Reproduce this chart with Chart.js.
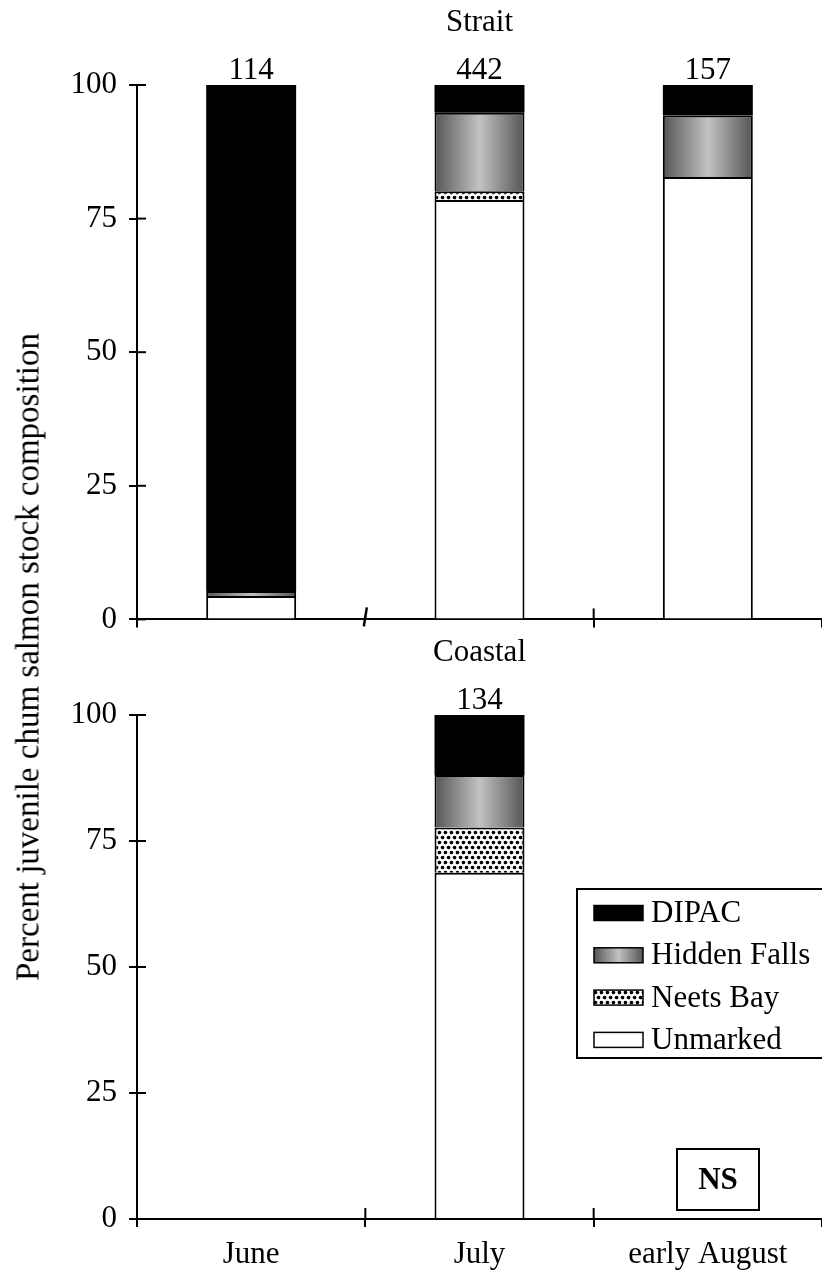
<!DOCTYPE html>
<html>
<head>
<meta charset="utf-8">
<script src="https://cdn.jsdelivr.net/npm/chart.js@4.4.1/dist/chart.umd.min.js"></script>
<style>
    body { margin: 0; background: #fff; }
    #wrap { position: relative; width: 822px; height: 1274px; }
    .box { position: absolute; left: 0; width: 822px; }
    #boxStrait { top: 0; height: 650px; }
    #boxCoastal { top: 630px; height: 644px; }
    #ylabel {
        position: absolute; left: 28px; top: 657px;
        transform: translate(-50%, -50%) rotate(-90deg);
        white-space: nowrap; font: 33px "Liberation Serif", serif; color: #000;
    }
</style>
</head>
<body>
<div id="wrap">
    <div class="box" id="boxStrait"><canvas id="chartStrait"></canvas></div>
    <div class="box" id="boxCoastal"><canvas id="chartCoastal"></canvas></div>
    <div id="ylabel">Percent juvenile chum salmon stock composition</div>
</div>
<script>
var categorias = ['June', 'July', 'early August'];
var yTicks = [0, 25, 50, 75, 100];
var estoques = ['Unmarked', 'Neets Bay', 'Hidden Falls', 'DIPAC'];

// Strait (percent of sample)
var straitUnmarked = [4.4, 78.5, 82.8];
var straitNeets = [0, 1.6, 0];
var straitHidden = [0.9, 14.7, 11.5];
var straitDipac = [94.7, 5.2, 5.7];
var straitN = [114, 442, 157];

// Coastal
var coastalUnmarked = [null, 68.7, null];
var coastalNeets = [null, 9.0, null];
var coastalHidden = [null, 10.4, null];
var coastalDipac = [null, 11.9, null];
var coastalN = [null, 134, null];

var BAR_PCT = 0.394;
var FONTE = '"Liberation Serif", "Times New Roman", serif';

var GraficoClass = function ()
{
    var _self = this;
    var pontos;

    this.criaPontos = function ()
    {
        var c = document.createElement('canvas');
        c.width = 6;
        c.height = 10;
        var g = c.getContext('2d');
        g.fillStyle = '#fff';
        g.fillRect(0, 0, 6, 10);
        g.fillStyle = '#000';
        [[1.5, 2.5], [4.5, 7.5], [-1.5, 7.5], [7.5, 2.5]].forEach(function (p) {
            g.beginPath();
            g.arc(p[0], p[1], 1.8, 0, Math.PI * 2);
            g.fill();
        });
        pontos = document.createElement('canvas').getContext('2d').createPattern(c, 'repeat');
    }

    this.faixaCinza = function (ctx, x0, x1)
    {
        var g = ctx.createLinearGradient(x0, 0, x1, 0);
        g.addColorStop(0, '#555');
        g.addColorStop(0.5, '#c2c2c2');
        g.addColorStop(1, '#555');
        return g;
    }

    this.gradienteHidden = function (context)
    {
        var chart = context.chart;
        if (!chart.chartArea || context.dataIndex === undefined)
            return '#999';
        var xs = chart.scales.x;
        var c = xs.getPixelForValue(context.dataIndex);
        var hw = xs.width / categorias.length * BAR_PCT / 2;
        return _self.faixaCinza(chart.ctx, c - hw, c + hw);
    }

    this.datasets = function (unmarked, neets, hidden, dipac)
    {
        var fills = ['#fff', pontos, _self.gradienteHidden, '#000'];
        return [unmarked, neets, hidden, dipac].map(function (d, i) {
            return {
                label: estoques[i],
                data: d,
                backgroundColor: fills[i],
                borderColor: '#000',
                // DIPAC is solid black, a border only leaves seams
                borderWidth: i === 3 ? 0 : 2,
                barPercentage: BAR_PCT,
                categoryPercentage: 1
            };
        });
    }

    this.linha = function (ctx, x0, y0, x1, y1)
    {
        ctx.beginPath();
        ctx.moveTo(x0, y0);
        ctx.lineTo(x1, y1);
        ctx.stroke();
    }

    this.decoracao = function (titulo, nums, quebra)
    {
        return {
            id: 'decoracao',
            afterDraw: function (chart) {
                var ctx = chart.ctx, a = chart.chartArea;
                var xs = chart.scales.x, ys = chart.scales.y;
                ctx.save();
                ctx.strokeStyle = '#000';
                ctx.lineWidth = 2;
                ys.ticks.forEach(function (t) {
                    var y = ys.getPixelForValue(t.value);
                    _self.linha(ctx, a.left, y, a.left + 9, y);
                });
                for (var i = 1; i < categorias.length; i++) {
                    var bx = (xs.getPixelForValue(i - 1) + xs.getPixelForValue(i)) / 2;
                    if (i === 1 && quebra) {
                        ctx.lineWidth = 2.5;
                        _self.linha(ctx, bx - 1.5, a.bottom + 7, bx + 1.5, a.bottom - 12);
                        ctx.lineWidth = 2;
                    } else {
                        _self.linha(ctx, bx, a.bottom, bx, a.bottom - 11);
                    }
                }
                ctx.fillStyle = '#000';
                ctx.font = '31px ' + FONTE;
                ctx.textAlign = 'center';
                ctx.textBaseline = 'alphabetic';
                ctx.fillText(titulo, (a.left + a.right) / 2, a.top - 54);
                var topo = chart.getDatasetMeta(chart.data.datasets.length - 1);
                nums.forEach(function (n, i) {
                    if (n === null)
                        return;
                    var bar = topo.data[i];
                    ctx.fillText(String(n), bar.x, bar.y - 6);
                });
                ctx.restore();
            }
        };
    }

    this.legenda = {
        id: 'legenda',
        afterDraw: function (chart) {
            var ctx = chart.ctx, a = chart.chartArea;
            var bx = a.left + 440, by = a.top + 174;
            ctx.save();
            ctx.fillStyle = '#fff';
            ctx.fillRect(bx, by, 260, 169);
            ctx.strokeStyle = '#000';
            ctx.lineWidth = 2;
            ctx.strokeRect(bx, by, 260, 169);
            ctx.font = '31px ' + FONTE;
            ctx.textAlign = 'left';
            ctx.textBaseline = 'middle';
            var ds = chart.data.datasets.slice().reverse();
            ds.forEach(function (d, k) {
                var cy = by + 24 + k * 42.3;
                var sx = bx + 17, sw = 49, sh = 15;
                var f = d.backgroundColor;
                if (typeof f === 'function')
                    f = _self.faixaCinza(ctx, sx, sx + sw);
                ctx.fillStyle = f;
                ctx.fillRect(sx, cy - sh / 2, sw, sh);
                ctx.lineWidth = 1.5;
                ctx.strokeRect(sx, cy - sh / 2, sw, sh);
                ctx.fillStyle = '#000';
                ctx.fillText(d.label, sx + 57, cy + 1);
            });
            // NS box
            var nx = a.left + 540, ny = a.top + 434;
            ctx.lineWidth = 2;
            ctx.strokeRect(nx, ny, 82, 61);
            ctx.font = 'bold 31px ' + FONTE;
            ctx.textAlign = 'center';
            ctx.fillText('NS', nx + 41, ny + 32);
            ctx.restore();
        }
    };

    this.opcoes = function (mostraX, quebra, alturaX)
    {
        return {
            responsive: true,
            maintainAspectRatio: false,
            animation: false,
            layout: { padding: { top: 85, left: 0, right: 0, bottom: 0 } },
            plugins: { legend: { display: false }, tooltip: { enabled: false } },
            scales: {
                x: {
                    stacked: true,
                    offset: true,
                    afterFit: function (s) { s.height = alturaX; },
                    grid: {
                        offset: true,
                        drawOnChartArea: false,
                        tickLength: 8,
                        lineWidth: 2,
                        color: function (c) {
                            return (quebra && c.index === 1) ? 'rgba(0,0,0,0)' : '#000';
                        }
                    },
                    border: { display: true, color: '#000', width: 2 },
                    ticks: {
                        display: mostraX,
                        padding: 9,
                        color: '#000',
                        maxRotation: 0,
                        font: { family: FONTE, size: 31 }
                    }
                },
                y: {
                    stacked: true,
                    min: 0,
                    max: 100,
                    afterFit: function (s) { s.width = 137; },
                    afterBuildTicks: function (s) {
                        s.ticks = yTicks.map(function (v) { return { value: v }; });
                    },
                    grid: { drawOnChartArea: false, tickLength: 8, lineWidth: 2, color: '#000' },
                    border: { display: true, color: '#000', width: 2 },
                    ticks: { padding: 12, color: '#000', font: { family: FONTE, size: 31 } }
                }
            }
        };
    }

    this.init = function ()
    {
        _self.criaPontos();

        new Chart(document.getElementById('chartStrait'), {
            type: 'bar',
            data: {
                labels: categorias,
                datasets: _self.datasets(straitUnmarked, straitNeets, straitHidden, straitDipac)
            },
            options: _self.opcoes(false, true, 29),
            plugins: [_self.decoracao('Strait', straitN, true)]
        });

        new Chart(document.getElementById('chartCoastal'), {
            type: 'bar',
            data: {
                labels: categorias,
                datasets: _self.datasets(coastalUnmarked, coastalNeets, coastalHidden, coastalDipac)
            },
            options: _self.opcoes(true, false, 55),
            plugins: [_self.decoracao('Coastal', coastalN, false), _self.legenda]
        });
    }

    _self.init();
}

var Grafico = new GraficoClass();
</script>
</body>
</html>
